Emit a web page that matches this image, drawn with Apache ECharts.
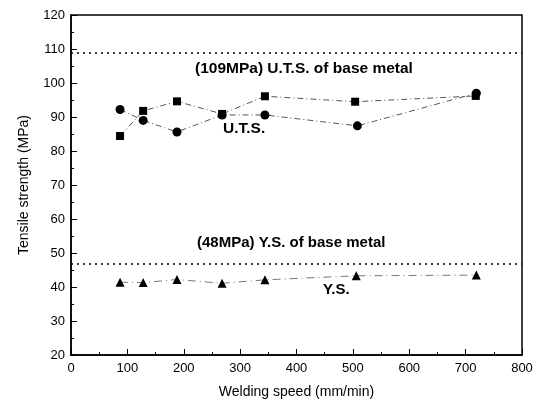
<!DOCTYPE html>
<html><head><meta charset="utf-8">
<script src="https://cdn.jsdelivr.net/npm/echarts@6/dist/echarts.min.js"></script>
<style>html,body{margin:0;padding:0;background:#fff}#c{width:538px;height:410px}</style>
</head><body><div id="c"></div>
<script>
const speedUTSsq = [87, 128, 188, 268, 344, 504, 718];
const utsSquare  = [84.4, 91.8, 94.6, 90.9, 96.1, 94.5, 96.2];
const speedUTSci = [87, 128, 188, 268, 344, 508, 719];
const utsCircle  = [92.2, 89.0, 85.6, 90.6, 90.6, 87.4, 97.0];
const speedYS    = [87, 128, 188, 268, 344, 506, 719];
const ysTriangle = [41.4, 41.3, 42.2, 41.1, 42.1, 43.3, 43.5];
const baseUTS = 108.8;
const baseYS = 46.7;

const pair = (xs, ys) => xs.map((x,i)=>[x, ys[i]]);
const font = 'Liberation Sans, Arial, sans-serif';
const chart = echarts.init(document.getElementById('c'));
chart.setOption({
  animation:false,
  grid:{left:71,right:16,top:15,bottom:55,show:true,borderColor:'#000',borderWidth:1.5},
  xAxis:{type:'value',min:0,max:800,interval:100,
    name:'Welding speed (mm/min)',nameLocation:'middle',nameGap:30,
    nameTextStyle:{fontFamily:font,fontSize:14,color:'#000'},
    axisLine:{lineStyle:{color:'#000',width:1.5}},
    axisTick:{inside:true,length:6,lineStyle:{color:'#000'}},
    minorTick:{show:true,splitNumber:2,length:3,lineStyle:{color:'#000'}},
    splitLine:{show:false},
    axisLabel:{fontFamily:font,fontSize:13,color:'#000',margin:7}},
  yAxis:{type:'value',min:20,max:120,interval:10,
    name:'Tensile strength (MPa)',nameLocation:'middle',nameGap:40,
    nameTextStyle:{fontFamily:font,fontSize:14,color:'#000'},
    axisLine:{lineStyle:{color:'#000',width:1.5}},
    axisTick:{inside:true,length:6,lineStyle:{color:'#000'}},
    minorTick:{show:true,splitNumber:2,length:3,lineStyle:{color:'#000'}},
    splitLine:{show:false},
    axisLabel:{fontFamily:font,fontSize:13,color:'#000',margin:6}},
  series:[
    {type:'line',data:pair(speedUTSsq,utsSquare),symbol:'rect',symbolSize:8,
     itemStyle:{color:'#000'},lineStyle:{color:'#555',width:1,type:[6,3,1,3]},
     markLine:{silent:true,symbol:'none',label:{show:false},
       lineStyle:{color:'#000',width:1.5,type:[2,4]},data:[{yAxis:baseUTS}]}},
    {type:'line',data:pair(speedUTSci,utsCircle),symbol:'circle',symbolSize:9,
     itemStyle:{color:'#000'},lineStyle:{color:'#555',width:1,type:[6,3,1,3]}},
    {type:'line',data:pair(speedYS,ysTriangle),symbol:'triangle',symbolSize:9,
     itemStyle:{color:'#000'},lineStyle:{color:'#777',width:1,type:[8,4,1,4]},
     markLine:{silent:true,symbol:'none',label:{show:false},
       lineStyle:{color:'#000',width:1.5,type:[2,4]},data:[{yAxis:baseYS}]}}
  ],
  graphic:[
    {type:'text',left:195,top:61,style:{text:'(109MPa) U.T.S. of base metal',font:'bold 15.5px '+font,fill:'#000'}},
    {type:'text',left:223,top:121,style:{text:'U.T.S.',font:'bold 15.5px '+font,fill:'#000'}},
    {type:'text',left:197,top:235,style:{text:'(48MPa) Y.S. of base metal',font:'bold 15px '+font,fill:'#000'}},
    {type:'text',left:323,top:282,style:{text:'Y.S.',font:'bold 15px '+font,fill:'#000'}}
  ]
});
</script></body></html>
